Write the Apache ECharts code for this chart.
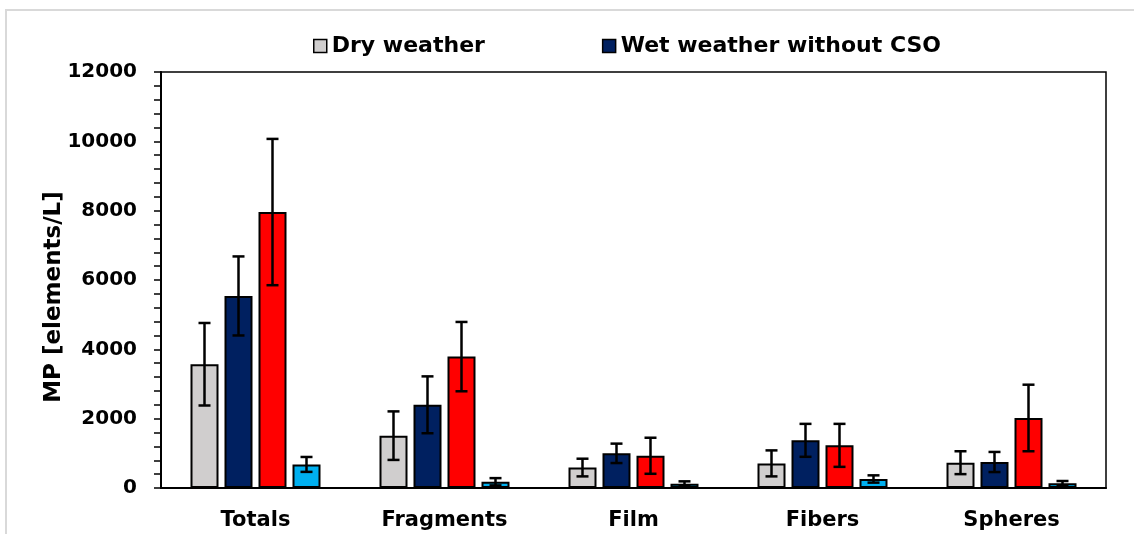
<!DOCTYPE html>
<html>
<head>
<meta charset="utf-8">
<script src="https://cdn.jsdelivr.net/npm/echarts@6/dist/echarts.min.js"></script>
<style>html,body{margin:0;padding:0;background:#fff;}#c{width:1134px;height:534px;}</style>
</head>
<body>
<div id="c"></div>
<script>
const categories = ['Totals', 'Fragments', 'Film', 'Fibers', 'Spheres'];
const seriesNames = ['Dry weather', 'Wet weather without CSO', 'Wet weather with CSO', 'CSO'];
const dryWeather = [3570, 1510, 590, 710, 730];
const dryWeatherErr = [1190, 700, 255, 375, 330];
const wetNoCSO = [5540, 2400, 1000, 1375, 750];
const wetNoCSOErr = [1140, 820, 280, 475, 290];
const wetCSO = [7960, 3790, 930, 1230, 2020];
const wetCSOErr = [2110, 1000, 520, 620, 960];
const cso = [680, 180, 125, 260, 135];
const csoErr = [215, 105, 67, 105, 67];
const yTicks = [0, 2000, 4000, 6000, 8000, 10000, 12000];

const values = [dryWeather, wetNoCSO, wetCSO, cso];
const errors = [dryWeatherErr, wetNoCSOErr, wetCSOErr, csoErr];
const colors = ['#d0cece', '#002060', '#ff0000', '#00b0f0'];
const BAR_W = 28, GAP = 6;
const FONT = 'DejaVu Sans';

const series = [];
values.forEach((vals, i) => {
  series.push({
    name: seriesNames[i],
    type: 'bar',
    data: vals,
    barWidth: BAR_W,
    barGap: (GAP / BAR_W * 100) + '%',
    itemStyle: { color: colors[i], borderColor: '#000', borderWidth: 2 },
    z: 2
  });
});
values.forEach((vals, i) => {
  series.push({
    name: seriesNames[i] + ' error',
    type: 'custom',
    data: vals.map((v, k) => [k, v - errors[i][k], v + errors[i][k]]),
    z: 5,
    silent: true,
    renderItem: function (params, api) {
      const k = api.value(0);
      const lo = api.coord([k, api.value(1)]);
      const hi = api.coord([k, api.value(2)]);
      const x = lo[0] + (i - 1.5) * (BAR_W + GAP);
      const cap = 6;
      const st = { stroke: '#000', lineWidth: 2.5 };
      return {
        type: 'group',
        children: [
          { type: 'line', shape: { x1: x, y1: lo[1], x2: x, y2: hi[1] }, style: st },
          { type: 'line', shape: { x1: x - cap, y1: lo[1], x2: x + cap, y2: lo[1] }, style: st },
          { type: 'line', shape: { x1: x - cap, y1: hi[1], x2: x + cap, y2: hi[1] }, style: st }
        ]
      };
    }
  });
});

const chart = echarts.init(document.getElementById('c'));
chart.setOption({
  animation: false,
  backgroundColor: '#fff',
  graphic: [{
    type: 'rect', z: -10, silent: true,
    shape: { x: 6, y: 10, width: 1300, height: 700 },
    style: { fill: null, stroke: '#d9d9d9', lineWidth: 2 }
  }],
  legend: {
    data: [seriesNames[0], seriesNames[1]],
    left: 308, top: 30,
    itemWidth: 13, itemHeight: 13, itemGap: 117,
    icon: 'rect',
    itemStyle: { borderColor: '#000', borderWidth: 1.5 },
    textStyle: { fontFamily: FONT, fontWeight: 'bold', fontSize: 22, color: '#000' }
  },
  grid: {
    left: 161, right: 28, top: 72, bottom: 46,
    show: true, borderColor: '#000', borderWidth: 1.5, backgroundColor: 'transparent'
  },
  xAxis: {
    type: 'category',
    data: categories,
    axisTick: { show: false },
    axisLine: { lineStyle: { color: '#000', width: 2 } },
    axisLabel: { fontFamily: FONT, fontWeight: 'bold', fontSize: 21, color: '#000', margin: 22 }
  },
  yAxis: {
    type: 'value',
    min: yTicks[0], max: yTicks[yTicks.length - 1], interval: yTicks[1] - yTicks[0],
    name: 'MP [elements/L]',
    nameLocation: 'middle',
    nameGap: 95,
    nameMoveOverlap: false,
    nameTextStyle: { fontFamily: FONT, fontWeight: 'bold', fontSize: 23, color: '#000', padding: [0, 34, 0, 0] },
    axisLine: { show: true, lineStyle: { color: '#000', width: 2 } },
    axisTick: { show: true, length: 7, lineStyle: { color: '#000', width: 1.5 } },
    minorTick: { show: true, splitNumber: 5, length: 7, lineStyle: { color: '#000', width: 1.5 } },
    splitLine: { show: false },
    minorSplitLine: { show: false },
    axisLabel: {
      fontFamily: FONT, fontWeight: 'bold', fontSize: 20, color: '#000', margin: 24,
      formatter: function (v) { return String(v); }
    }
  },
  series: series
});
</script>
</body>
</html>
